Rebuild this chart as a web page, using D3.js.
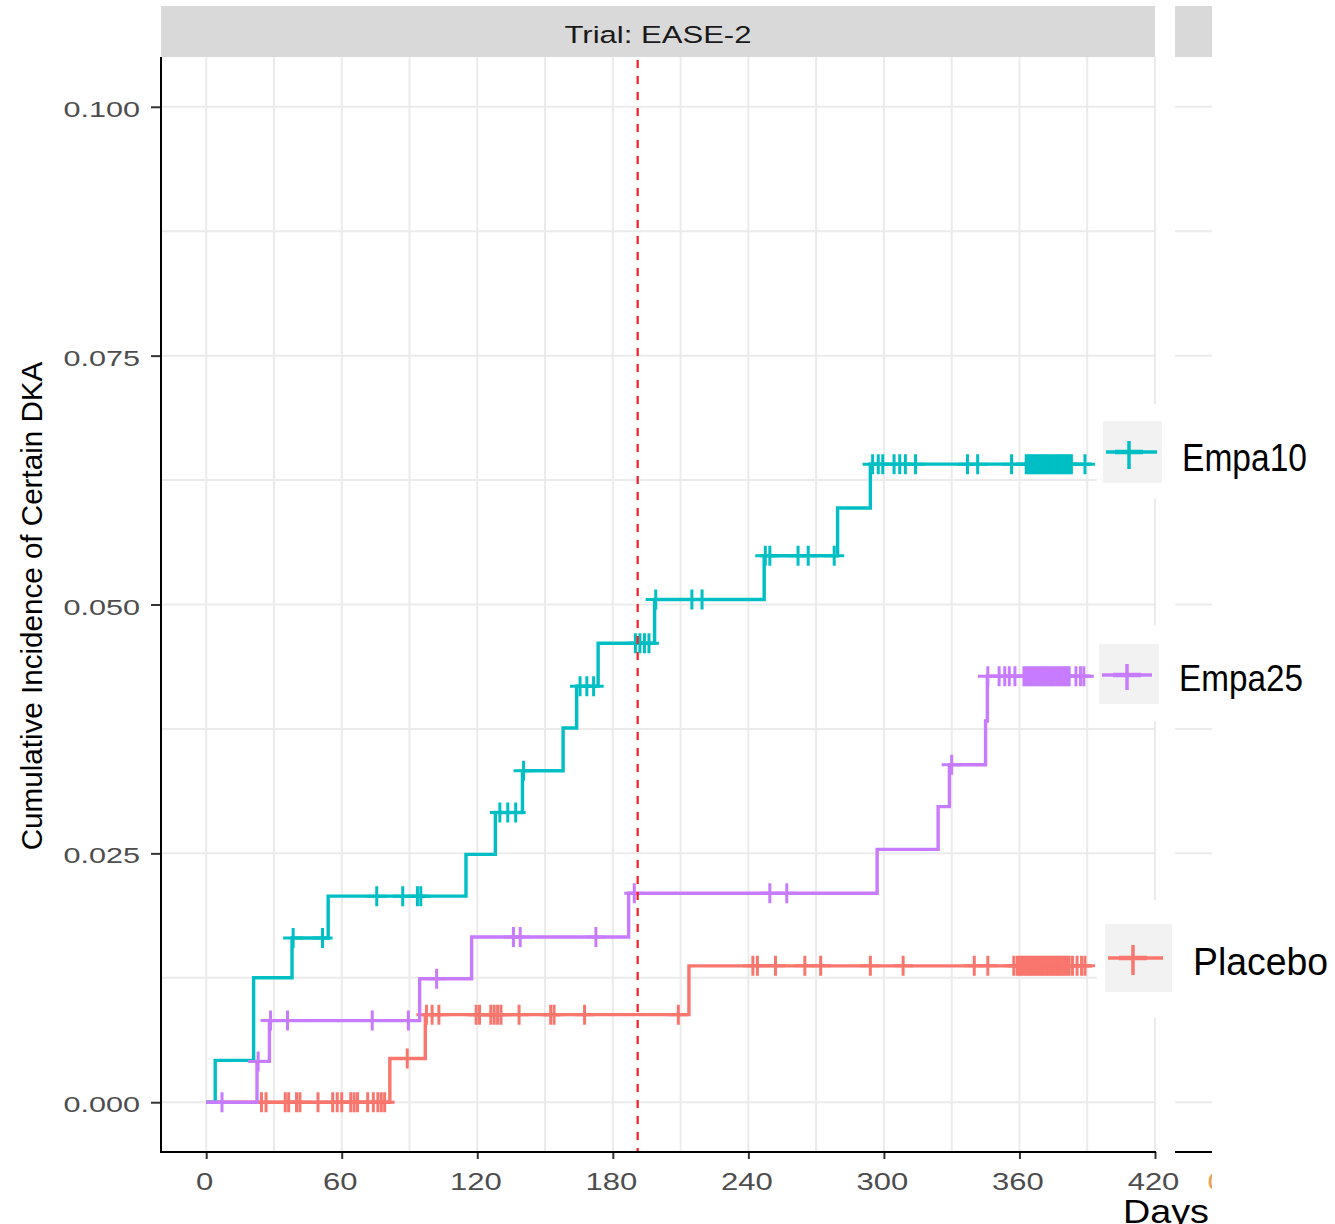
<!DOCTYPE html>
<html>
<head>
<meta charset="utf-8">
<script src="https://cdn.jsdelivr.net/npm/d3@7"></script>
<style>
  body { margin: 0; background: #fff; }
  svg { display: block; }
  text { font-family: "Liberation Sans", Arial, sans-serif; }
</style>
</head>
<body>
<svg id="chart" width="1335" height="1224"></svg>
<script>
// ---- data -----------------------------------------------------------------
const dayTicks = [0, 60, 120, 180, 240, 300, 360, 420];
const dayGrid = [0, 30, 60, 90, 120, 150, 180, 210, 240, 270, 300, 330, 360, 390, 420];
const incidenceTicks = [0, 0.025, 0.05, 0.075, 0.1];
const incidenceGrid = [0, 0.0125, 0.025, 0.0375, 0.05, 0.0625, 0.075, 0.0875, 0.1];
const cutoffDay = 191;
const trialLabel = "Trial: EASE-2";
const xTitle = "Days";
const yTitle = "Cumulative Incidence of Certain DKA";

const groups = ["Empa10", "Empa25", "Placebo"];
const groupColors = ["#00BFC4", "#C77CFF", "#F8766D"];

// Empa10
const empa10EventDays = [4, 21, 38, 54, 115, 128, 140, 158, 164, 173.5, 198.5, 247, 279.5, 294];
const empa10Incidence = [0.0042, 0.0125, 0.0165, 0.0207, 0.0249, 0.0291, 0.0333, 0.0376, 0.0418, 0.0461, 0.0505, 0.0549, 0.0597, 0.0641];
const empa10CensorDays = [38.5, 51.5, 75.5, 87, 93.5, 95, 130, 133.5, 137, 140.5, 165.5, 168.5, 171.5,
  190, 192, 194, 196, 199, 215, 219.5, 247.5, 249.5, 262, 266.5, 278,
  295, 297.5, 299.5, 304.5, 307, 309.5, 314, 337, 341.5, 356.5,
  363, 364, 365, 366, 367, 368, 369, 370, 371, 372, 373, 374, 375, 376, 377, 378, 379, 380, 381, 382, 383, 389];
const empa10EndDay = 392;

// Empa25
const empa25EventDays = [22.5, 28, 94.5, 117.5, 187, 297, 324, 329, 345, 345.8];
const empa25Incidence = [0.0041, 0.0082, 0.0124, 0.0166, 0.0210, 0.0254, 0.0297, 0.0339, 0.0383, 0.0428];
const empa25CensorDays = [7, 23, 28.5, 36, 73.5, 89.5, 102, 136, 139, 172.5, 189.5, 249.5, 257, 330,
  346, 351, 353.5, 355.5, 358, 362, 363, 364, 365, 366, 367, 368, 369, 370, 371, 372, 373, 374, 375,
  376, 377, 378, 379, 380, 381, 382, 385, 387, 388.5];
const empa25EndDay = 391.5;

// Placebo
const placeboEventDays = [81.3, 97, 213.7];
const placeboIncidence = [0.0044, 0.0088, 0.0137];
const placeboCensorDays = [24.5, 26.5, 35, 36.5, 40, 41.5, 49.5, 56, 58, 60, 64, 65.5, 67, 71.5, 74, 76, 77.5, 79,
  89, 97.5, 100, 103, 119.5, 121, 126, 127.5, 129, 130.5, 138.5, 152.5, 154, 167.5, 209,
  242, 244, 252, 265, 272, 294, 308.5, 340, 346, 357.5, 359, 360, 361, 362, 363, 364, 365, 366, 367,
  368, 369, 370, 371, 372, 373, 374, 375, 376, 377, 378, 379, 380, 381, 382, 383.5, 385.5, 387.5, 389];
const placeboEndDay = 392;

// ---- chart ----------------------------------------------------------------
const svg = d3.select("#chart");
const panel = { left: 161, right: 1155, top: 57, bottom: 1152 };

const x = d3.scaleLinear().domain([-20, 420]).range([panel.left, panel.right]);
const y = d3.scaleLinear().domain([-0.005, 0.105]).range([panel.bottom, panel.top]);

const series = [
  { name: groups[0], color: groupColors[0], days: empa10EventDays, inc: empa10Incidence, censor: empa10CensorDays, end: empa10EndDay },
  { name: groups[1], color: groupColors[1], days: empa25EventDays, inc: empa25Incidence, censor: empa25CensorDays, end: empa25EndDay },
  { name: groups[2], color: groupColors[2], days: placeboEventDays, inc: placeboIncidence, censor: placeboCensorDays, end: placeboEndDay }
];

// facet strip
svg.append("rect")
  .attr("x", panel.left).attr("y", 6)
  .attr("width", panel.right - panel.left).attr("height", panel.top - 6)
  .attr("fill", "#D9D9D9");
svg.append("text")
  .attr("x", (panel.left + panel.right) / 2).attr("y", 43)
  .attr("text-anchor", "middle")
  .attr("font-size", 24.5).attr("fill", "#1A1A1A")
  .attr("textLength", 187).attr("lengthAdjust", "spacingAndGlyphs")
  .text(trialLabel);

// grid
const grid = svg.append("g").attr("stroke", "#EBEBEB").attr("stroke-width", 2);
grid.selectAll("line.v").data(dayGrid).join("line")
  .attr("x1", d => x(d)).attr("x2", d => x(d))
  .attr("y1", panel.top).attr("y2", panel.bottom);
grid.selectAll("line.h").data(incidenceGrid).join("line")
  .attr("x1", panel.left).attr("x2", panel.right + 1)
  .attr("y1", d => y(d)).attr("y2", d => y(d));

// neighbouring panel (only its left edge fits in the frame)
const next = svg.append("g");
svg.append("clipPath").attr("id", "nextClip")
  .append("rect").attr("x", 1175).attr("y", 0).attr("width", 37).attr("height", 1224);
next.attr("clip-path", "url(#nextClip)");
next.append("rect").attr("x", 1175).attr("y", 6).attr("width", 60).attr("height", panel.top - 6).attr("fill", "#D9D9D9");
next.selectAll("line.h").data(incidenceGrid).join("line")
  .attr("x1", 1175).attr("x2", 1240)
  .attr("y1", d => y(d)).attr("y2", d => y(d))
  .attr("stroke", "#EBEBEB").attr("stroke-width", 2);
next.append("line").attr("x1", 1175).attr("x2", 1240)
  .attr("y1", panel.bottom).attr("y2", panel.bottom)
  .attr("stroke", "#000").attr("stroke-width", 2);
next.append("text")
  .attr("transform", `translate(${1175 + (x(0) - panel.left) - 4},1190) scale(1.32,1)`)
  .attr("text-anchor", "middle").attr("font-size", 23.5).attr("fill", "#E8A050")
  .text(dayTicks[0]);

// legend backgrounds hide the grid behind the keys
const legendRows = [
  { top: 404, bottom: 499 },
  { top: 625, bottom: 721 },
  { top: 900, bottom: 1018 }
];
svg.selectAll("rect.legend-bg").data(legendRows).join("rect")
  .attr("x", 1097).attr("y", d => d.top)
  .attr("width", 1335 - 1097).attr("height", d => d.bottom - d.top)
  .attr("fill", "#fff");

// step curves
const stepLine = d3.line().x(d => x(d[0])).y(d => y(d[1])).curve(d3.curveStepAfter);
function levelAt(s, day) {
  const i = d3.bisectRight(s.days, day);
  return i === 0 ? 0 : s.inc[i - 1];
}
function pts(s) {
  const p = [[0, 0]];
  s.days.forEach((d, i) => p.push([d, s.inc[i]]));
  p.push([s.end, s.inc[s.inc.length - 1]]);
  return p;
}
const drawOrder = [series[2], series[0], series[1]];
const curves = svg.append("g");
drawOrder.forEach(s => {
  const g = curves.append("g");
  g.append("path")
    .attr("d", stepLine(pts(s)))
    .attr("fill", "none").attr("stroke", s.color).attr("stroke-width", 3.4);
  g.selectAll("path.censor").data(s.censor).join("path")
    .attr("d", d => {
      const cx = x(d), cy = y(levelAt(s, d));
      return `M${cx - 10},${cy}H${cx + 10}M${cx},${cy - 10}V${cy + 10}`;
    })
    .attr("fill", "none").attr("stroke", s.color).attr("stroke-width", 3);
});

// reference day
svg.append("line")
  .attr("x1", x(cutoffDay)).attr("x2", x(cutoffDay))
  .attr("y1", panel.top + 3).attr("y2", panel.bottom)
  .attr("stroke", "#FF1A1A").attr("stroke-width", 2.2)
  .attr("stroke-dasharray", "8,8");

// axes
const xAxis = svg.append("g")
  .attr("transform", `translate(0,${panel.bottom})`)
  .call(d3.axisBottom(x).tickValues(dayTicks).tickSize(7).tickFormat(d3.format("d")));
xAxis.select(".domain").remove();
xAxis.selectAll(".tick line").attr("stroke", "#333").attr("stroke-width", 2);
xAxis.selectAll(".tick text")
  .attr("y", null).attr("dy", null)
  .attr("transform", "translate(-2,38) scale(1.32,1)")
  .attr("font-size", 23.5).attr("fill", "#4D4D4D")
  .attr("font-family", "Liberation Sans, Arial, sans-serif");

const yAxis = svg.append("g")
  .attr("transform", `translate(${panel.left},0)`)
  .call(d3.axisLeft(y).tickValues(incidenceTicks).tickSize(10).tickFormat(d3.format(".3f")));
yAxis.select(".domain").remove();
yAxis.selectAll(".tick line").attr("stroke", "#333").attr("stroke-width", 2);
yAxis.selectAll(".tick text")
  .attr("x", null).attr("dy", null)
  .attr("transform", "translate(-21,9.5) scale(1.36,1)")
  .attr("text-anchor", "end")
  .attr("font-size", 22.5).attr("fill", "#4D4D4D")
  .attr("font-family", "Liberation Sans, Arial, sans-serif");

svg.append("line")
  .attr("x1", panel.left).attr("x2", panel.left)
  .attr("y1", panel.top).attr("y2", panel.bottom + 1)
  .attr("stroke", "#000").attr("stroke-width", 2);
svg.append("line")
  .attr("x1", panel.left - 1).attr("x2", panel.right + 1)
  .attr("y1", panel.bottom).attr("y2", panel.bottom)
  .attr("stroke", "#000").attr("stroke-width", 2);

// axis titles
svg.append("text")
  .attr("transform", "translate(42,606) rotate(-90)")
  .attr("text-anchor", "middle")
  .attr("font-size", 29.6).attr("fill", "#000")
  .text(yTitle);
svg.append("text")
  .attr("x", 1123).attr("y", 1223)
  .attr("font-size", 33).attr("fill", "#000")
  .attr("textLength", 86).attr("lengthAdjust", "spacingAndGlyphs")
  .text(xTitle);

// legend keys
const legendKeys = [
  { box: [1103, 421, 59, 62], lineY: 452, lx: [1106, 1157], px: 1129, py: [441, 469], tx: 1182, ty: 471, fs: 38, tl: 125 },
  { box: [1099, 644, 60, 60], lineY: 675, lx: [1102, 1152], px: 1127, py: [664, 690], tx: 1179, ty: 691, fs: 37, tl: 124 },
  { box: [1105, 924, 67, 68], lineY: 958, lx: [1108, 1163], px: 1133, py: [945, 975], tx: 1193, ty: 975, fs: 38, tl: 135 }
];
legendKeys.forEach((k, i) => {
  const g = svg.append("g");
  g.append("rect").attr("x", k.box[0]).attr("y", k.box[1]).attr("width", k.box[2]).attr("height", k.box[3]).attr("fill", "#F2F2F2");
  g.append("line").attr("x1", k.lx[0]).attr("x2", k.lx[1]).attr("y1", k.lineY).attr("y2", k.lineY)
    .attr("stroke", groupColors[i]).attr("stroke-width", 3.5);
  g.append("line").attr("x1", k.px).attr("x2", k.px).attr("y1", k.py[0]).attr("y2", k.py[1])
    .attr("stroke", groupColors[i]).attr("stroke-width", 3.5);
  g.append("line").attr("x1", k.px - 14).attr("x2", k.px + 14).attr("y1", k.lineY).attr("y2", k.lineY)
    .attr("stroke", groupColors[i]).attr("stroke-width", 4.5);
  g.append("text").attr("x", k.tx).attr("y", k.ty)
    .attr("font-size", k.fs).attr("fill", "#000")
    .attr("textLength", k.tl).attr("lengthAdjust", "spacingAndGlyphs")
    .text(groups[i]);
});
</script>
</body>
</html>
